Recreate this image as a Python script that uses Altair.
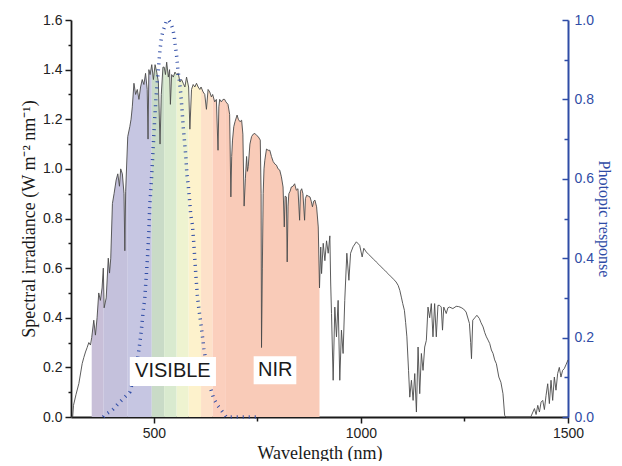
import altair as alt
import pandas as pd

# ---------------- data ----------------
wavelength = [300, 304, 306, 312, 319, 327, 331, 335, 339, 343, 347, 350, 355, 359, 363, 367, 371, 375, 378, 380,
              385, 390, 393, 396, 400, 404, 409, 413, 417, 420, 424, 428, 430, 432, 437, 442, 445, 448, 452, 456,
              460, 464, 468, 472, 476, 480, 484, 486, 488, 491, 495, 499, 503, 507, 511, 515, 518, 522, 525, 528,
              531, 535, 538, 540, 543, 547, 551, 555, 559, 563, 567, 571, 575, 579, 584, 587, 591, 595, 599, 603,
              607, 611, 614, 619, 623, 627, 631, 635, 639, 642, 647, 651, 655, 657, 659, 663, 667, 671, 674, 679,
              683, 686, 688, 690, 693, 696, 701, 704, 708, 712, 715, 718, 721, 724, 726, 728, 732, 736, 740, 744,
              748, 752, 757, 759, 760, 762, 764, 766, 768, 772, 776, 780, 784, 788, 792, 796, 800, 804, 808, 812,
              815, 817, 820, 822, 824, 826, 829, 832, 836, 840, 844, 848, 852, 854, 857, 860, 864, 866, 869, 873,
              877, 880, 883, 886, 889, 893, 897, 900, 903, 905, 909, 913, 917, 921, 925, 927, 929, 933, 937, 941,
              945, 949, 953, 957, 961, 966, 971, 975, 981, 989, 997, 1003, 1007, 1013, 1019, 1025, 1031, 1037, 1043, 1049,
              1055, 1061, 1067, 1073, 1079, 1085, 1090, 1094, 1098, 1101, 1105, 1108, 1111, 1115, 1118, 1122, 1126, 1130, 1134, 1138,
              1142, 1146, 1150, 1154, 1158, 1162, 1166, 1170, 1174, 1178, 1182, 1186, 1190, 1194, 1197, 1200, 1206, 1210, 1214, 1222,
              1230, 1236, 1242, 1248, 1254, 1262, 1265, 1267, 1270, 1275, 1280, 1286, 1290, 1295, 1299, 1303, 1307, 1311, 1315, 1319,
              1323, 1327, 1333, 1338, 1343, 1347, 1350, 1410, 1419, 1423, 1427, 1431, 1435, 1439, 1443, 1447, 1451, 1455, 1459, 1463,
              1467, 1471, 1475, 1479, 1483, 1487, 1491, 1495, 1498, 1500]
irradiance = [0.0, 0.0, 0.047, 0.09, 0.135, 0.215, 0.24, 0.262, 0.28, 0.30, 0.29, 0.32, 0.39, 0.33, 0.40, 0.50, 0.47, 0.52, 0.60, 0.44,
              0.48, 0.64, 0.58, 0.64, 0.86, 0.90, 0.955, 0.98, 0.93, 1.00, 0.98, 0.90, 0.67, 0.91, 1.13, 1.17, 1.20, 1.25, 1.345, 1.30,
              1.32, 1.28, 1.33, 1.36, 1.34, 1.385, 1.32, 1.12, 1.40, 1.38, 1.42, 1.36, 1.42, 1.39, 1.35, 1.10, 1.30, 1.41, 1.41, 1.38,
              1.43, 1.37, 1.40, 1.26, 1.38, 1.37, 1.39, 1.38, 1.385, 1.35, 1.36, 1.345, 1.33, 1.37, 1.33, 1.16, 1.32, 1.34, 1.33, 1.345,
              1.33, 1.32, 1.33, 1.31, 1.30, 1.24, 1.32, 1.31, 1.29, 1.30, 1.27, 1.28, 1.075, 1.25, 1.28, 1.27, 1.28, 1.28, 1.27, 1.26,
              1.22, 0.887, 1.05, 1.116, 1.17, 1.19, 1.217, 1.20, 1.19, 1.196, 1.14, 0.85, 0.96, 1.05, 0.99, 1.01, 1.10, 1.13, 1.14, 1.143,
              1.135, 1.13, 1.116, 0.90, 0.28, 0.60, 0.90, 1.00, 1.035, 1.08, 1.075, 1.075, 1.05, 1.03, 1.02, 1.015, 1.00, 0.995, 0.968, 0.927,
              0.766, 0.89, 0.887, 0.625, 0.85, 0.90, 0.91, 0.927, 0.93, 0.94, 0.914, 0.92, 0.793, 0.91, 0.92, 0.90, 0.793, 0.88, 0.894, 0.89,
              0.887, 0.87, 0.847, 0.87, 0.874, 0.847, 0.766, 0.52, 0.685, 0.578, 0.70, 0.63, 0.71, 0.66, 0.73, 0.54, 0.417, 0.148, 0.443, 0.323,
              0.47, 0.148, 0.35, 0.256, 0.47, 0.66, 0.551, 0.66, 0.686, 0.706, 0.692, 0.645, 0.68, 0.665, 0.655, 0.645, 0.635, 0.625, 0.615, 0.605,
              0.595, 0.585, 0.575, 0.565, 0.555, 0.544, 0.53, 0.51, 0.48, 0.457, 0.43, 0.38, 0.323, 0.188, 0.08, 0.148, 0.067, 0.175, 0.02, 0.282,
              0.094, 0.256, 0.188, 0.282, 0.309, 0.443, 0.40, 0.457, 0.323, 0.457, 0.323, 0.45, 0.45, 0.443, 0.35, 0.443, 0.417, 0.44, 0.443, 0.437,
              0.446, 0.445, 0.441, 0.435, 0.423, 0.377, 0.30, 0.235, 0.39, 0.40, 0.41, 0.397, 0.38, 0.363, 0.34, 0.323, 0.31, 0.296, 0.27, 0.256,
              0.23, 0.215, 0.161, 0.14, 0.094, 0.007, 0.0, 0.0, 0.034, 0.01, 0.047, 0.02, 0.06, 0.067, 0.03, 0.087, 0.134, 0.054, 0.148, 0.067,
              0.161, 0.108, 0.175, 0.20, 0.161, 0.188, 0.195, 0.21, 0.222, 0.23]

photo_wl = [378, 382, 392, 402, 418, 430, 442, 452, 458, 462, 466, 470, 474, 478, 482, 485, 488, 490, 493, 496,
            499, 502, 505, 508, 511, 514, 518, 522, 527, 531, 537, 541, 545, 549, 552, 555, 558, 562, 565, 568,
            571, 574, 577, 580, 583, 586, 589, 593, 596, 599, 602, 605, 609, 613, 617, 621, 625, 632, 638, 645,
            655, 665, 675, 752]
photo_val = [0.0, 0.005, 0.012, 0.02, 0.038, 0.05, 0.063, 0.10, 0.13, 0.155, 0.185, 0.219, 0.265, 0.297, 0.359, 0.408, 0.466, 0.53, 0.576, 0.63,
             0.69, 0.75, 0.80, 0.84, 0.876, 0.915, 0.954, 0.972, 0.986, 1.0, 0.998, 0.992, 0.98, 0.961, 0.935, 0.91, 0.875, 0.845, 0.815, 0.775,
             0.73, 0.695, 0.66, 0.61, 0.585, 0.55, 0.51, 0.485, 0.445, 0.397, 0.35, 0.307, 0.27, 0.24, 0.206, 0.172, 0.145, 0.10, 0.069, 0.045,
             0.028, 0.014, 0.0, 0.0]

band_names = ["uv", "violet", "indigo", "blue", "cyan", "green", "yellow", "orange", "red", "nir"]
band_start = [350, 378, 437, 495, 525, 555, 584, 614, 642, 674]
band_end = [378, 437, 495, 525, 555, 584, 614, 642, 674, 900]
band_colors = ["#c8bfd8", "#c4c1dc", "#c6c6e2", "#c9dbc7", "#d9eacf", "#eef3d0",
               "#fdf2cc", "#fde1c9", "#fbcfbd", "#f9cbb8"]

x_major = [500, 1000, 1500]
x_minor_ticks = [750, 1250]
y_major = [0, 0.2, 0.4, 0.6, 0.8, 1.0, 1.2, 1.4, 1.6]
y_minor_ticks = [0.1, 0.3, 0.5, 0.7, 0.9, 1.1, 1.3, 1.5]
p_major_ticks = [0, 0.2, 0.4, 0.6, 0.8, 1.0]
p_minor_ticks = [0.1, 0.3, 0.5, 0.7, 0.9]

label_text = ["VISIBLE", "NIR"]
label_x = [546, 793]
label_y = [0.184, 0.188]
box_x0 = [442, 741]
box_x1 = [650, 844]
box_y0 = [0.125, 0.132]
box_y1 = [0.242, 0.245]

# ---------------- tables ----------------
spec_df = pd.DataFrame({"wl": wavelength, "irr": irradiance})
rows = []
for name, s, e in zip(band_names, band_start, band_end):
    for w, v in zip(wavelength, irradiance):
        if s <= w <= e:
            rows.append({"wl": w, "irr": v, "band": name})
band_df = pd.DataFrame(rows)
photo_df = pd.DataFrame({"wl": photo_wl, "v": photo_val})
ann_df = pd.DataFrame({"label": label_text, "cx": label_x, "cy": label_y,
                       "x0": box_x0, "x1": box_x1, "y0": box_y0, "y1": box_y1})

SANS = "Liberation Sans"
SERIF = "Liberation Serif"
BLACK = "#1a1a1a"
BLUE = "#2f4ca6"

xs = alt.Scale(domain=[300, 1500], nice=False, zero=False)
ys = alt.Scale(domain=[0, 1.6], nice=False)
ps = alt.Scale(domain=[0, 1], nice=False)

x_main = alt.Axis(orient="bottom", values=x_major, format="d", labelFlush=False, tickSize=6, tickWidth=1.5,
                  tickColor=BLACK, domainColor=BLACK, domainWidth=1.8, labelFont=SANS, labelFontSize=14,
                  labelColor="#222222", labelPadding=3, grid=False, title="Wavelength (nm)", titleFont=SERIF,
                  titleFontSize=18, titleFontWeight="normal", titleColor=BLACK, titlePadding=4)
x_minor = alt.Axis(orient="bottom", values=x_minor_ticks, tickSize=4, tickWidth=1.5, tickColor=BLACK,
                   labels=False, domain=False, grid=False, title=None)
y_main = alt.Axis(orient="left", values=y_major, format=".1f", labelFlush=False, tickSize=6, tickWidth=1.5,
                  tickColor=BLACK, domainColor=BLACK, domainWidth=1.8, labelFont=SANS, labelFontSize=14,
                  labelColor="#222222", labelPadding=3, grid=False,
                  title="Spectral irradiance (W m\u207b\u00b2 nm\u207b\u00b9)", titleFont=SERIF, titleFontSize=18,
                  titleFontWeight="normal", titleColor=BLACK, titlePadding=4)
y_minor = alt.Axis(orient="left", values=y_minor_ticks, tickSize=3, tickWidth=1.5, tickColor=BLACK,
                   labels=False, domain=False, grid=False, title=None)
p_major = alt.Axis(orient="right", values=p_major_ticks, format=".1f", labelFlush=False, offset=-6,
                   tickSize=6, tickWidth=1.5, tickColor=BLUE, domain=False, labelFont=SANS, labelFontSize=14,
                   labelColor=BLUE, labelPadding=6, grid=False, title="Photopic response", titleFont=SERIF,
                   titleFontSize=16, titleFontWeight="normal", titleColor=BLUE, titlePadding=2)
p_minor = alt.Axis(orient="right", values=p_minor_ticks, offset=-4, tickSize=4, tickWidth=1.5,
                   tickColor=BLUE, labels=False, domain=False, grid=False, title=None)
p_domain = alt.Axis(orient="right", ticks=False, labels=False, domain=True, domainColor=BLUE,
                    domainWidth=2, grid=False, title=None)

IND = dict(x="independent", y="independent")

bands = alt.Chart(band_df).mark_area(opacity=1).encode(
    x=alt.X("wl:Q", scale=xs, axis=None),
    y=alt.Y("irr:Q", scale=ys, axis=None, stack=None),
    color=alt.Color("band:N", scale=alt.Scale(domain=band_names, range=band_colors), legend=None),
)
line = alt.Chart(spec_df).mark_line(color="#4a4a4a", strokeWidth=0.9).encode(
    x=alt.X("wl:Q", scale=xs, axis=x_main),
    y=alt.Y("irr:Q", scale=ys, axis=y_main),
)
yminor = alt.Chart(spec_df).mark_line(strokeOpacity=0).encode(
    x=alt.X("wl:Q", scale=xs, axis=x_minor),
    y=alt.Y("irr:Q", scale=ys, axis=y_minor),
)
left = alt.layer(bands, line, yminor).resolve_axis(**IND)

photo = alt.Chart(photo_df).mark_line(color=BLUE, strokeWidth=3.5, strokeDash=[1, 5]).encode(
    x=alt.X("wl:Q", scale=xs, axis=None),
    y=alt.Y("v:Q", scale=ps, axis=p_major),
)
pminor = alt.Chart(photo_df).mark_line(strokeOpacity=0).encode(
    x=alt.X("wl:Q", scale=xs, axis=None),
    y=alt.Y("v:Q", scale=ps, axis=p_minor),
)
pdom = alt.Chart(photo_df).mark_line(strokeOpacity=0).encode(
    x=alt.X("wl:Q", scale=xs, axis=None),
    y=alt.Y("v:Q", scale=ps, axis=p_domain),
)
right = alt.layer(photo, pminor, pdom).resolve_axis(**IND)

boxes = alt.Chart(ann_df).mark_rect(color="white").encode(
    x=alt.X("x0:Q", scale=xs, axis=None), x2="x1:Q",
    y=alt.Y("y0:Q", scale=ys, axis=None), y2="y1:Q",
)
texts = alt.Chart(ann_df).mark_text(font=SANS, fontSize=20, color=BLACK, baseline="middle", align="center").encode(
    x=alt.X("cx:Q", scale=xs, axis=None),
    y=alt.Y("cy:Q", scale=ys, axis=None),
    text="label:N",
)
ann = alt.layer(boxes, texts).resolve_axis(**IND)

chart = alt.layer(left, right, ann).resolve_scale(y="independent").resolve_axis(**IND).properties(
    width=497, height=397,
    background="white",
    autosize=alt.AutoSizeParams(type="none"),
    padding={"left": 63, "top": 12, "right": 46, "bottom": 44},
).configure_view(stroke=None, strokeWidth=0)

chart.save("out.html", embed_options={"renderer": "svg", "actions": False})
